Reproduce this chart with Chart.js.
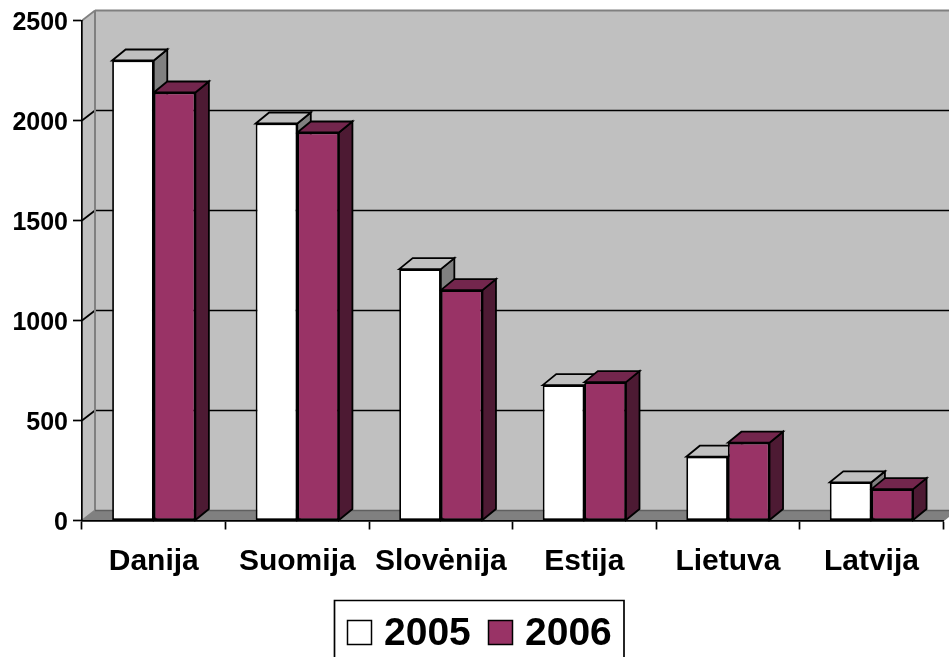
<!DOCTYPE html>
<html><head><meta charset="utf-8">
<style>html,body{margin:0;padding:0;background:#fff;overflow:hidden}canvas{display:block}</style>
<script src="https://cdn.jsdelivr.net/npm/chart.js@4"></script>
</head><body><canvas id="c" width="949" height="657"></canvas>
<script>
const categories = ['Danija','Suomija','Slovėnija','Estija','Lietuva','Latvija'];
const values2005 = [2300,1985,1257,677,319,191];
const values2006 = [2140,1940,1152,692,389,157];
const seriesNames = ['2005','2006'];
const yTicks = [0,500,1000,1500,2000,2500];
const FONT = '"Liberation Sans", Arial, sans-serif';
const WALL = {dx:13, dy:10};
const BAR = {dx:13.5, dy:11};
const shades = [{front:'#FFFFFF',top:'#C0C0C0',side:'#808080'},{front:'#993366',top:'#73264D',side:'#4D1A33'}];

function poly(ctx, pts, fill, stroke, lw){
  ctx.beginPath();
  pts.forEach((p,i)=> i?ctx.lineTo(p[0],p[1]):ctx.moveTo(p[0],p[1]));
  ctx.closePath();
  if(fill){ctx.fillStyle=fill;ctx.fill();}
  if(stroke){ctx.strokeStyle=stroke;ctx.lineWidth=lw;ctx.lineJoin='miter';ctx.stroke();}
}
function line(ctx,x1,y1,x2,y2,c,lw){ctx.beginPath();ctx.moveTo(x1,y1);ctx.lineTo(x2,y2);ctx.strokeStyle=c;ctx.lineWidth=lw;ctx.stroke();}

const scene = {
  id:'scene',
  beforeDraw(chart){
    const {ctx,chartArea:a,scales:{y}}=chart;
    const {dx,dy}=WALL;
    ctx.save();
    ctx.fillStyle='#fff';ctx.fillRect(0,0,chart.width,chart.height);
    poly(ctx,[[a.left,a.top],[a.left+dx,a.top-dy],[a.left+dx,a.bottom-dy],[a.left,a.bottom]],'#C0C0C0');
    poly(ctx,[[a.left+dx,a.top-dy],[a.right+dx,a.top-dy],[a.right+dx,a.bottom-dy],[a.left+dx,a.bottom-dy]],'#C0C0C0');
    poly(ctx,[[a.left,a.bottom],[a.left+dx,a.bottom-dy],[a.right+dx,a.bottom-dy],[a.right,a.bottom]],'#808080');
    yTicks.forEach(v=>{
      if(v===0||v===yTicks[yTicks.length-1])return;
      const p=y.getPixelForValue(v);
      line(ctx,a.left,p,a.left+dx,p-dy,'#000',1.7);
      line(ctx,a.left+dx,p-dy,a.right+dx,p-dy,'#000',1.7);
    });
    line(ctx,a.left+dx,a.top-dy,a.right+dx,a.top-dy,'#808080',2);
    line(ctx,a.left+dx,a.top-dy,a.left+dx,a.bottom-dy,'#808080',2);
    line(ctx,a.left,a.top,a.left+dx,a.top-dy,'#808080',1.7);
    line(ctx,a.left,a.bottom,a.left+dx,a.bottom-dy,'#808080',1.7);
    line(ctx,a.left+dx,a.bottom-dy,a.right+dx,a.bottom-dy,'#606060',1.7);
    line(ctx,a.right,a.bottom,a.right+dx,a.bottom-dy,'#808080',1.7);
    ctx.restore();
  },
  beforeDatasetsDraw(chart){
    const ctx=chart.ctx;const {dx,dy}=BAR;
    ctx.save();
    categories.forEach((_,i)=>{
      chart.data.datasets.forEach((ds,d)=>{
        const r=chart.getDatasetMeta(d).data[i].getProps(['x','y','base','width'],true);
        const l=r.x-r.width/2,rt=r.x+r.width/2,t=r.y,b=r.base;
        poly(ctx,[[rt,t],[rt+dx,t-dy],[rt+dx,b-dy],[rt,b]],shades[d].side,'#000',1.8);
        poly(ctx,[[l,t],[l+dx,t-dy],[rt+dx,t-dy],[rt,t]],shades[d].top,'#000',1.8);
      });
    });
    ctx.restore();
  },
  afterDraw(chart){
    const ctx=chart.ctx;
    ctx.save();
    ctx.strokeStyle='#000';ctx.lineWidth=1.7;
    ctx.beginPath();ctx.moveTo(334.5,660);ctx.lineTo(334.5,600.5);ctx.lineTo(624,600.5);ctx.lineTo(624,660);ctx.stroke();
    ctx.font='bold 39px '+FONT;ctx.textAlign='left';ctx.textBaseline='alphabetic';
    [[347.5,384],[488.5,525]].forEach((p,d)=>{
      ctx.fillStyle=shades[d].front;ctx.fillRect(p[0],620.5,24,24);
      ctx.strokeStyle='#000';ctx.lineWidth=1.5;ctx.strokeRect(p[0],620.5,24,24);
      ctx.fillStyle='#000';ctx.fillText(seriesNames[d],p[1],645);
    });
    ctx.restore();
  }
};

new Chart(document.getElementById('c'),{
  type:'bar',
  data:{labels:categories,datasets:[
    {label:seriesNames[0],data:values2005,backgroundColor:shades[0].front},
    {label:seriesNames[1],data:values2006,backgroundColor:shades[1].front}
  ].map(d=>Object.assign(d,{borderColor:'#000',borderWidth:1.8,borderSkipped:false,categoryPercentage:0.58,barPercentage:1}))},
  options:{
    responsive:false,animation:false,devicePixelRatio:1,
    layout:{padding:{top:20.5,right:5.8,left:0,bottom:0}},
    plugins:{legend:{display:false},tooltip:{enabled:false}},
    scales:{
      x:{
        afterFit(s){s.height=136.5;},
        grid:{drawOnChartArea:false,drawTicks:true,tickLength:9,tickColor:'#000',tickWidth:1.7,offset:true},
        border:{color:'#000',width:1.7},
        ticks:{color:'#000',font:{family:FONT,size:30,weight:'bold'},padding:14,maxRotation:0,autoSkip:false}
      },
      y:{
        min:0,max:2500,
        afterFit(s){s.width=82;},
        afterBuildTicks(s){s.ticks=yTicks.map(v=>({value:v}));},
        grid:{drawOnChartArea:false,drawTicks:true,tickLength:9,tickColor:'#000',tickWidth:1.7},
        border:{color:'#000',width:1.7},
        ticks:{color:'#000',font:{family:FONT,size:25,weight:'bold'},padding:5,labelOffset:2.5,callback:v=>String(v)}
      }
    }
  },
  plugins:[scene]
});
</script></body></html>
